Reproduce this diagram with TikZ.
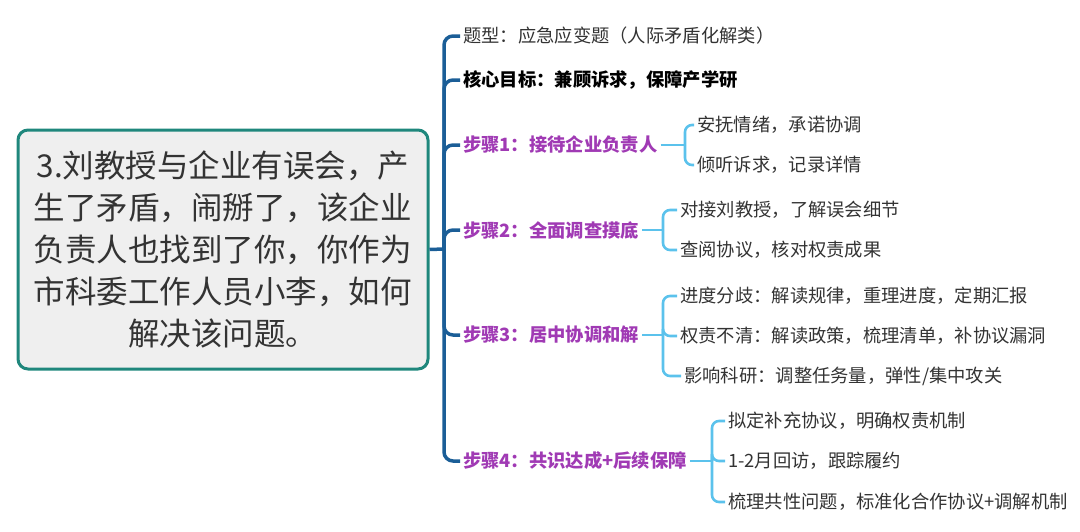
\documentclass[tikz,border=0pt]{standalone}
\usepackage{fontspec}
\setmainfont{Noto Sans CJK SC}
\usetikzlibrary{positioning, calc}
\definecolor{Trunk}{HTML}{1B5E97}
\definecolor{Twig}{HTML}{5BC2EC}
\definecolor{Step}{HTML}{A03AB4}
\definecolor{Ink}{HTML}{333333}
\definecolor{Frame}{HTML}{1F877C}
\definecolor{Paper}{HTML}{EFEFEF}
\tikzset{
    qbox/.style={rectangle, rounded corners=10pt, draw=Frame, line width=3pt, fill=Paper,
        text=Ink, align=center, minimum width=410pt, minimum height=239pt,
        font=\fontsize{31.5}{42}\selectfont},
    topic/.style={anchor=west, inner sep=3pt, text=Ink, font=\fontsize{18.3}{20}\selectfont},
    goalnode/.style={topic, text=black, font=\fontsize{18.3}{20}\selectfont\bfseries},
    stepnode/.style={topic, text=Step, font=\fontsize{18.3}{20}\selectfont\bfseries},
    leaf/.style={topic},
    trunk/.style={draw=Trunk, line width=3.5pt, rounded corners=9pt},
    twig/.style={draw=Twig, line width=2.6pt, rounded corners=7pt},
}
\begin{document}
\begin{tikzpicture}[x=1pt, y=-1pt]
    \useasboundingbox (0,0) rectangle (1080,531);

    % la domanda
    \node[qbox] (q) at (223,249.5)
        {3.刘教授与企业有误会，产\\生了矛盾，闹掰了，该企业\\负责人也找到了你，你作为\\市科委工作人员小李，如何\\解决该问题。};

    % primo livello
    \node[topic] (tp) at (460,36) {题型：应急应变题（人际矛盾化解类）};
    \node[goalnode] (goal) at (460,80) {核心目标：兼顾诉求，保障产学研};
    \node[stepnode] (s1) at (460,145) {步骤1：接待企业负责人};
    \node[stepnode] (s2) at (460,230) {步骤2：全面调查摸底};
    \node[stepnode] (s3) at (460,335) {步骤3：居中协调和解};
    \node[stepnode] (s4) at (460,461) {步骤4：共识达成+后续保障};

    \coordinate (hub) at (444,249);
    \draw[trunk] (q.east) -- (hub);
    \foreach \n in {tp, goal, s1, s2, s3, s4}
        \draw[trunk] (hub) |- (\n.west);

    % secondo livello
    \node[leaf] (s1a) at (694,125) {安抚情绪，承诺协调};
    \node[leaf] (s1b) at (694,165) {倾听诉求，记录详情};
    \node[leaf] (s2a) at (677,210) {对接刘教授，了解误会细节};
    \node[leaf] (s2b) at (677,250) {查阅协议，核对权责成果};
    \node[leaf] (s3a) at (677,296) {进度分歧：解读规律，重理进度，定期汇报};
    \node[leaf] (s3b) at (677,336) {权责不清：解读政策，梳理清单，补协议漏洞};
    \node[leaf] (s3c) at (681,376) {影响科研：调整任务量，弹性/集中攻关};
    \node[leaf] (s4a) at (725,421) {拟定补充协议，明确权责机制};
    \node[leaf] (s4b) at (725,461) {1-2月回访，跟踪履约};
    \node[leaf] (s4c) at (725,502) {梳理共性问题，标准化合作协议+调解机制};

    \coordinate (s1hub) at (685,145);
    \coordinate (s2hub) at (663,230);
    \coordinate (s3hub) at (663,335);
    \coordinate (s4hub) at (712,461);

    \draw[twig] (s1.east) -- (s1hub);
    \foreach \c in {s1a, s1b} \draw[twig] (s1hub) |- (\c.west);
    \draw[twig] (s2.east) -- (s2hub);
    \foreach \c in {s2a, s2b} \draw[twig] (s2hub) |- (\c.west);
    \draw[twig] (s3.east) -- (s3hub);
    \foreach \c in {s3a, s3b, s3c} \draw[twig] (s3hub) |- (\c.west);
    \draw[twig] (s4.east) -- (s4hub);
    \foreach \c in {s4a, s4b, s4c} \draw[twig] (s4hub) |- (\c.west);
\end{tikzpicture}
\end{document}
